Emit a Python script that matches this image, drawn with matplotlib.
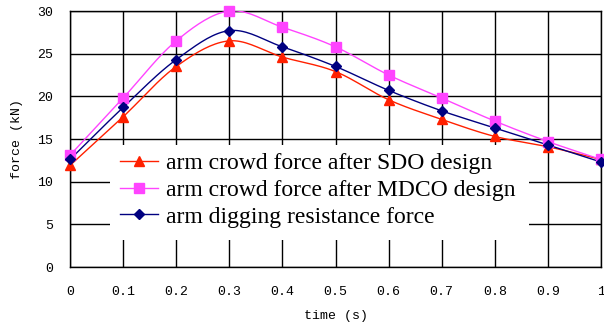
import numpy as np
import matplotlib.pyplot as plt
from matplotlib.lines import Line2D
from matplotlib.patches import Rectangle

time_s = [0, 0.1, 0.2, 0.3, 0.4, 0.5, 0.6, 0.7, 0.8, 0.9, 1.0]
sdo_force = [11.9, 17.6, 23.5, 26.5, 24.6, 22.9, 19.6, 17.3, 15.3, 14.1, 12.6]
mdco_force = [13.1, 19.8, 26.5, 30.0, 28.1, 25.8, 22.5, 19.8, 17.1, 14.7, 12.6]
dig_force = [12.6, 18.7, 24.3, 27.7, 25.8, 23.5, 20.7, 18.3, 16.3, 14.3, 12.3]

x_ticks = [0, 0.1, 0.2, 0.3, 0.4, 0.5, 0.6, 0.7, 0.8, 0.9, 1.0]
x_ticklabels = ["0", "0.1", "0.2", "0.3", "0.4", "0.5", "0.6", "0.7", "0.8", "0.9", "1"]
y_ticks = [0, 5, 10, 15, 20, 25, 30]

labels = [
    "arm crowd force after SDO design",
    "arm crowd force after MDCO design",
    "arm digging resistance force",
]


def smooth(x, y, n=20):
    # catmull-rom through the points, like the spreadsheet "smoothed line"
    x = np.asarray(x, dtype=float)
    y = np.asarray(y, dtype=float)
    px = np.concatenate([[2 * x[0] - x[1]], x, [2 * x[-1] - x[-2]]])
    py = np.concatenate([[2 * y[0] - y[1]], y, [2 * y[-1] - y[-2]]])
    t = np.linspace(0, 1, n)
    xs, ys = [], []
    for i in range(1, len(px) - 2):
        for p, out in ((px, xs), (py, ys)):
            p0, p1, p2, p3 = p[i - 1], p[i], p[i + 1], p[i + 2]
            out.append(0.5 * (2 * p1 + (-p0 + p2) * t
                              + (2 * p0 - 5 * p1 + 4 * p2 - p3) * t ** 2
                              + (-p0 + 3 * p1 - 3 * p2 + p3) * t ** 3))
    return np.concatenate(xs), np.concatenate(ys)


fig = plt.figure(figsize=(6.04, 3.29), dpi=100)
ax = fig.add_axes([70 / 604, 1 - 267 / 329, 531 / 604, 256 / 329])

series = [
    (sdo_force, "#ff2000", "^", 6.5),
    (mdco_force, "#ff44ff", "s", 6.5),
    (dig_force, "#000080", "D", 5),
]

handles = []
for (vals, color, marker, ms), label in zip(series, labels):
    sx, sy = smooth(time_s, vals)
    ax.plot(sx, sy, color=color, linewidth=1.0, zorder=3)
    ax.plot(time_s, vals, linestyle="none", marker=marker, markersize=ms,
            color=color, zorder=4, clip_on=False)
    handles.append(Line2D([], [], color=color, linewidth=1.0, marker=marker,
                          markersize=ms, label=label))

ax.set_xlim(0, 1)
ax.set_ylim(0, 30)
ax.set_xticks(x_ticks)
ax.set_xticklabels(x_ticklabels)
ax.set_yticks(y_ticks)
ax.set_axisbelow(True)
ax.grid(True, color="black", linewidth=1.0)
for sp in ax.spines.values():
    sp.set_color("black")
    sp.set_linewidth(1.0)

ax.tick_params(length=0, labelsize=9.5, pad=12)
ax.tick_params(axis="x", pad=14)
for lbl in ax.get_xticklabels() + ax.get_yticklabels():
    lbl.set_family("Liberation Mono")

ax.set_xlabel("time (s)", family="Liberation Mono", fontsize=9.5, labelpad=8)
ax.set_ylabel("force (kN)", family="Liberation Mono", fontsize=9.5, labelpad=10)

# white block behind the legend hides the grid
ax.add_patch(Rectangle((0.075, 0.105), 0.789, 0.372, transform=ax.transAxes,
                       facecolor="white", edgecolor="none", zorder=1))

ax.legend(handles=handles, loc="upper left", bbox_to_anchor=(0.094, 0.447),
          frameon=False, borderpad=0, borderaxespad=0, handlelength=1.6,
          handletextpad=0.35, labelspacing=0.22,
          prop={"family": "Liberation Serif", "size": 17})

fig.savefig("out.png", dpi=100)
plt.close(fig)
